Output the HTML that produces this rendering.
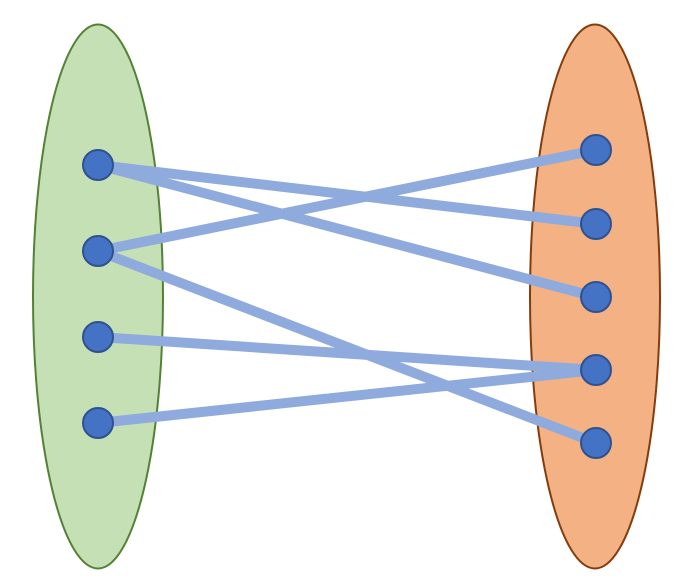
<!DOCTYPE html>
<html><head><meta charset="utf-8"><style>html,body{margin:0;padding:0;background:#fff}svg{display:block}</style></head>
<body>
<svg width="699" height="588" viewBox="0 0 699 588" xmlns="http://www.w3.org/2000/svg">
<ellipse cx="98" cy="296.5" rx="65" ry="272" fill="#C5E0B4" stroke="#538135" stroke-width="2"/>
<ellipse cx="595" cy="296.5" rx="65" ry="272" fill="#F4B183" stroke="#843C0C" stroke-width="2"/>
<g stroke="#8FAADC" stroke-width="10" stroke-linecap="butt">
<line x1="98" y1="165" x2="596" y2="224"/>
<line x1="98" y1="165" x2="596" y2="297"/>
<line x1="98" y1="251" x2="596" y2="150"/>
<line x1="98" y1="251" x2="596" y2="443"/>
<line x1="98" y1="337" x2="596" y2="370"/>
<line x1="98" y1="423" x2="596" y2="370"/>
</g>
<g fill="#4472C4" stroke="#2F528F" stroke-width="2">
<circle cx="98" cy="165" r="15"/>
<circle cx="98" cy="251" r="15"/>
<circle cx="98" cy="337" r="15"/>
<circle cx="98" cy="423" r="15"/>
<circle cx="596" cy="150" r="15"/>
<circle cx="596" cy="224" r="15"/>
<circle cx="596" cy="297" r="15"/>
<circle cx="596" cy="370" r="15"/>
<circle cx="596" cy="443" r="15"/>
</g>
</svg>
</body></html>
